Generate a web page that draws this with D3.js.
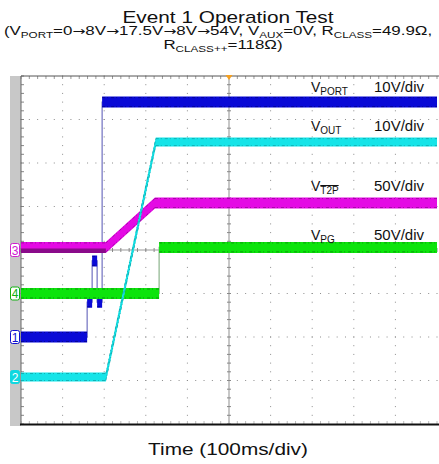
<!DOCTYPE html>
<html>
<head>
<meta charset="utf-8">
<script src="https://cdn.jsdelivr.net/npm/d3@7"></script>
<style>
  body { margin: 0; background: #fff; }
  svg { display: block; font-family: "Liberation Sans", Arial, sans-serif; }
</style>
</head>
<body>
<div id="chart"></div>
<script>
// time in ms (100ms/div), values in volts
var portT = [0, 159, 159, 171, 171, 183, 183, 195, 195, 1000];
var portV = [0, 0, 8, 8, 17.5, 17.5, 8, 8, 54, 54];
var outT = [0, 204, 324, 1000];
var outV = [0, 0, 54, 54];
var t2pT = [0, 204, 322, 1000];
var t2pV = [3, 3, 54, 54];
var pgT = [0, 332, 332, 1000];
var pgV = [0, 0, 53, 53];

var chNames = ["1", "2", "3", "4"];
var chVoltsPerDiv = [10, 10, 50, 50];
var chOffsetDiv = [-2, -2.92, 0, -1];
var chLabels = ["PORT", "OUT", "T2P", "PG"];
var chScaleText = ["10V/div", "10V/div", "50V/div", "50V/div"];

var width = 439, height = 464;
var pLeft = 21, pRight = 437, pTop = 76, pBottom = 424;
var stretch = 1.3; // the heading texts are drawn wide, as in the source picture

var svg = d3.select("#chart").append("svg")
    .attr("width", width)
    .attr("height", height);

var x = d3.scaleLinear().domain([0, 1000]).range([pLeft, pRight]);
var y = d3.scaleLinear().domain([-4, 4]).range([pBottom, pTop]);

// grey strip on the left
svg.append("rect")
    .attr("x", 10).attr("y", pTop)
    .attr("width", pLeft - 10).attr("height", pBottom - pTop + 2)
    .attr("fill", "#c8c8c8");

var grid = svg.append("g");

// dotted graticule
var xDivs = d3.range(1, 10), yDivs = d3.range(-3, 4);
xDivs.forEach(function(d) {
    if (d == 5) return;
    d3.range(-4, 4.01, 0.2).forEach(function(v) {
        grid.append("rect").attr("x", x(d * 100) - 0.5).attr("y", y(v) - 0.5)
            .attr("width", 1).attr("height", 1).attr("fill", "#8c8c8c");
    })
})
yDivs.forEach(function(v) {
    if (v == 0) return;
    d3.range(0, 1000.1, 20).forEach(function(t) {
        grid.append("rect").attr("x", x(t) - 0.5).attr("y", y(v) - 0.5)
            .attr("width", 1).attr("height", 1).attr("fill", "#8c8c8c");
    })
})

// centre lines
grid.append("line").attr("x1", x(500)).attr("x2", x(500)).attr("y1", pTop).attr("y2", pBottom)
    .attr("stroke", "#b4b4b4").attr("stroke-width", 1.5);
grid.append("line").attr("x1", pLeft).attr("x2", pRight).attr("y1", y(0)).attr("y2", y(0))
    .attr("stroke", "#9a9a9a").attr("stroke-width", 1.2);

// minor ticks on centre lines and borders
d3.range(0, 1000.1, 20).forEach(function(t) {
    grid.append("line").attr("x1", x(t)).attr("x2", x(t)).attr("y1", y(0) - 2).attr("y2", y(0) + 2)
        .attr("stroke", "#888");
    grid.append("line").attr("x1", x(t)).attr("x2", x(t)).attr("y1", pTop).attr("y2", pTop + 3)
        .attr("stroke", "#999");
    grid.append("line").attr("x1", x(t)).attr("x2", x(t)).attr("y1", pBottom - 3).attr("y2", pBottom)
        .attr("stroke", "#bbb");
})
d3.range(-4, 4.01, 0.2).forEach(function(v) {
    grid.append("line").attr("x1", x(500) - 2).attr("x2", x(500) + 2).attr("y1", y(v)).attr("y2", y(v))
        .attr("stroke", "#888");
    grid.append("line").attr("x1", pLeft).attr("x2", pLeft + 3).attr("y1", y(v)).attr("y2", y(v))
        .attr("stroke", "#888");
})

// frame
svg.append("line").attr("x1", pLeft).attr("x2", width).attr("y1", pTop).attr("y2", pTop)
    .attr("stroke", "#555").attr("stroke-width", 1);
svg.append("line").attr("x1", pLeft).attr("x2", pLeft).attr("y1", pTop).attr("y2", pBottom)
    .attr("stroke", "#666").attr("stroke-width", 1);
svg.append("line").attr("x1", pLeft - 1).attr("x2", width).attr("y1", pBottom + 0.5).attr("y2", pBottom + 0.5)
    .attr("stroke", "#111").attr("stroke-width", 2);

// trigger marker
svg.append("path")
    .attr("d", "M" + (x(500) - 3.5) + "," + (pTop - 1) + "h7l-3.5,5z")
    .attr("fill", "#f5a020");

// traces
var traces = [
    { ch: 0, t: portT, v: portV, fill: "#0a0ad6", edge: "#00006a", thin: "#7070c0", band: 11 },
    { ch: 3, t: pgT, v: pgV, fill: "#0ce40c", edge: "#0a600a", thin: "#8cb48c", band: 11 },
    { ch: 2, t: t2pT, v: t2pV, fill: "#e40ae4", edge: "#780078", thin: "#c060c0", band: 11 },
    { ch: 1, t: outT, v: outV, fill: "#16e4e8", edge: "#0a8a8e", thin: "#14d6dc", band: 9 }
];

function toDiv(tr, v) {
    return v / chVoltsPerDiv[tr.ch] + chOffsetDiv[tr.ch];
}

traces.forEach(function(tr) {
    var pts = tr.t.map(function(t, i) { return [t, toDiv(tr, tr.v[i])]; });
    var g = svg.append("g");
    var h = tr.band / 2;

    g.append("path")
        .datum(pts)
        .attr("d", d3.line().x(function(d) { return x(d[0]); }).y(function(d) { return y(d[1]); }))
        .attr("fill", "none")
        .attr("stroke", tr.thin)
        .attr("stroke-width", tr.ch == 1 ? 1.8 : 1.2);

    var area = d3.area()
        .x(function(d) { return x(d[0]); })
        .y0(function(d) { return y(d[1]) + h; })
        .y1(function(d) { return y(d[1]) - h; });
    g.append("path").datum(pts).attr("d", area).attr("fill", tr.fill);

    // darker speckled edges of the noisy band, only where the trace is not a step
    d3.pairs(pts).forEach(function(p) {
        if (p[0][0] == p[1][0]) return;
        [h - 1, -h + 1].forEach(function(off) {
            g.append("line")
                .attr("x1", x(p[0][0])).attr("x2", x(p[1][0]))
                .attr("y1", y(p[0][1]) + off).attr("y2", y(p[1][1]) + off)
                .attr("stroke", tr.edge)
                .attr("stroke-width", 1)
                .attr("stroke-dasharray", "3,2,1,3")
                .attr("opacity", 0.55);
        })
    })

    // darker lower half on the low part of the T2P trace
    if (tr.ch == 2) {
        var low = pts.slice(0, 2);
        g.append("path").datum(low)
            .attr("d", d3.area()
                .x(function(d) { return x(d[0]); })
                .y0(function(d) { return y(d[1]) + h; })
                .y1(function(d) { return y(d[1]) + 1; }))
            .attr("fill", "#8a0a8a");
    }
})

// channel markers
var markerCol = ["#1010d0", "#10d8e0", "#d020d0", "#10b010"];
chNames.forEach(function(n, i) {
    var yy = y(chOffsetDiv[i]);
    var filled = i == 1;
    svg.append("rect")
        .attr("x", 10.5).attr("y", yy - 6.5)
        .attr("width", 9).attr("height", 13).attr("rx", 2)
        .attr("fill", filled ? markerCol[i] : "#fff")
        .attr("stroke", markerCol[i]).attr("stroke-width", 1);
    svg.append("text")
        .attr("x", 15).attr("y", yy + 4.5)
        .attr("text-anchor", "middle")
        .attr("font-size", 12)
        .attr("fill", filled ? "#fff" : markerCol[i])
        .text(n);
})

// channel labels
var labelY = [92, 131, 191, 240];
chLabels.forEach(function(lab, i) {
    var t = svg.append("text")
        .attr("x", 311).attr("y", labelY[i])
        .attr("font-size", 14)
        .attr("fill", "#111");
    t.append("tspan").text("V");
    var sub = t.append("tspan").attr("font-size", 10).attr("dy", 3).text(lab);
    svg.append("text")
        .attr("x", 424).attr("y", labelY[i])
        .attr("text-anchor", "end")
        .attr("font-size", 15)
        .attr("fill", "#111")
        .text(chScaleText[i]);
    if (lab == "T2P") {
        var vw = 9.3;
        var sw = sub.node().getComputedTextLength();
        svg.append("line")
            .attr("x1", 311 + vw).attr("x2", 311 + vw + sw)
            .attr("y1", labelY[i] - 5.5).attr("y2", labelY[i] - 5.5)
            .attr("stroke", "#111").attr("stroke-width", 1);
    }
})

function wideText(cx, cy, size) {
    return svg.append("text")
        .attr("transform", "translate(" + cx + "," + cy + ") scale(" + stretch + ",1)")
        .attr("text-anchor", "middle")
        .attr("font-size", size)
        .attr("fill", "#111");
}

// title
wideText(228, 23, 16).text("Event 1 Operation Test");

function subLine(cx, yPos, parts) {
    var t = wideText(cx, yPos, 13);
    var shifted = false;
    parts.forEach(function(p) {
        var bits = p[0].split(/(\u2192)/);
        bits.forEach(function(b, k) {
            if (b === "") return;
            var s = t.append("tspan").text(b);
            if (b == "\u2192") s.attr("font-family", "DejaVu Sans").attr("font-size", 12);
            if (k > 0) return;
            if (p[1]) {
                s.attr("font-size", 9).attr("dy", shifted ? 0 : 2.5);
                shifted = true;
            } else if (shifted) {
                s.attr("dy", -2.5);
                shifted = false;
            }
        })
    })
}
subLine(218, 35, [["(V"], ["PORT", 1], ["=0\u21928V\u219217.5V\u21928V\u219254V, V"], ["AUX", 1],
    ["=0V, R"], ["CLASS", 1], ["=49.9\u03a9,"]]);
subLine(223, 49, [["R"], ["CLASS++", 1], ["=118\u03a9)"]]);

// x axis label
wideText(228, 455, 16).text("Time (100ms/div)");
</script>
</body>
</html>
